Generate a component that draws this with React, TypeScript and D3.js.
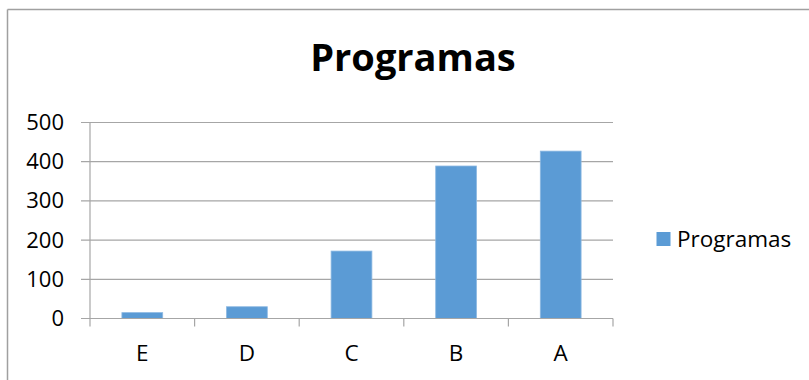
import React from 'react';
import { scaleBand, scaleLinear } from 'd3';

const categories = ['E', 'D', 'C', 'B', 'A'];
const values = [15, 30, 172, 389, 427];
const yTicks = [0, 100, 200, 300, 400, 500];
const seriesName = 'Programas';

const App = () => {
  const width = 809;
  const height = 380;
  const left = 90;
  const right = 613;
  const top = 122.5;
  const bottom = 318.5;
  const font = '"Open Sans", Lato, sans-serif';
  const grid = '#a6a6a6';
  const barColor = '#5b9bd5';

  const xScale = scaleBand<string>().domain(categories).range([left, right]).padding(0);
  const yScale = scaleLinear().domain([0, 500]).range([bottom, top]);
  const barW = xScale.bandwidth() * 0.39;

  return (
    <svg width={width} height={height} style={{ position: 'absolute', left: 0, top: 0 }}>
      <rect x={0} y={0} width={width} height={height} fill="#fff" />
      {/* chart border (cropped right/bottom) */}
      <line x1={7.5} y1={9.5} x2={width} y2={9.5} stroke="#a0a0a0" strokeWidth={1.5} />
      <line x1={7.5} y1={9.5} x2={7.5} y2={height} stroke="#a0a0a0" strokeWidth={1.5} />

      <text x={413} y={71} textAnchor="middle" fontFamily={font} fontWeight="bold" fontSize={38} fill="#000">
        {seriesName}
      </text>

      {/* gridlines + y ticks */}
      {yTicks.map(t => (
        <g key={t}>
          <line x1={left - 9} x2={right} y1={yScale(t)} y2={yScale(t)} stroke={grid} strokeWidth={1.2} />
          <text x={64} y={yScale(t) + 7.5} textAnchor="end" fontFamily={font} fontSize={22} fill="#000">
            {t}
          </text>
        </g>
      ))}

      {/* y axis */}
      <line x1={left} x2={left} y1={top} y2={bottom + 8} stroke={grid} strokeWidth={1.2} />

      {/* x ticks */}
      {categories.map(c => (
        <line key={c} x1={xScale(c)! + xScale.bandwidth()} x2={xScale(c)! + xScale.bandwidth()}
          y1={bottom} y2={bottom + 8} stroke={grid} strokeWidth={1.2} />
      ))}

      {/* bars */}
      {categories.map((c, i) => (
        <rect key={c}
          x={xScale(c)! + (xScale.bandwidth() - barW) / 2}
          y={yScale(values[i])}
          width={barW}
          height={bottom - yScale(values[i])}
          fill={barColor}
          stroke="#8cb8e2"
          strokeWidth={0.8}
        />
      ))}

      <line x1={left} x2={right} y1={bottom} y2={bottom} stroke={grid} strokeWidth={1.2} />

      {/* x labels */}
      {categories.map(c => (
        <text key={c} x={xScale(c)! + xScale.bandwidth() / 2} y={361} textAnchor="middle"
          fontFamily={font} fontSize={22.5} fill="#000">
          {c}
        </text>
      ))}

      {/* legend */}
      <rect x={656.5} y={232} width={14} height={14} fill={barColor} />
      <text x={677} y={246.5} fontFamily={font} fontSize={22.5} fill="#000">{seriesName}</text>
    </svg>
  );
};

export default App;
